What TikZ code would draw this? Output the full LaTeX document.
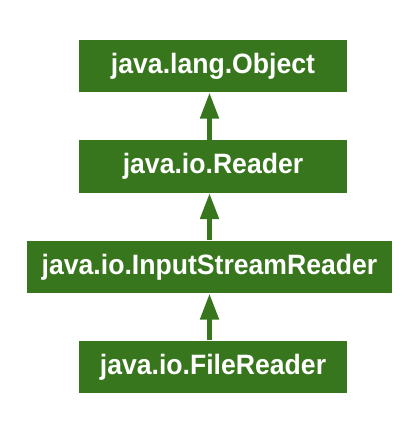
\documentclass[tikz,border=0pt]{standalone}
\usepackage{fontspec}
\setmainfont{Liberation Sans}
\newfontfamily\boxfont[FakeStretch=0.95]{Liberation Sans}
\usetikzlibrary{arrows.meta}
\definecolor{javagreen}{RGB}{56,118,29}
\begin{document}
\begin{tikzpicture}[x=0.75pt, y=-0.75pt,
    classbox/.style={fill=javagreen, text=white, inner sep=0pt,
        font=\boxfont\fontsize{21}{25}\selectfont\bfseries,
        minimum width=201pt, minimum height=39.5pt},
    extends/.style={draw=javagreen, line width=3.75pt,
        -{Triangle[length=19.5pt, width=13.5pt]}}]
    % Marco
    \useasboundingbox (0,0) rectangle (418,429);

    % Clases
    \node[classbox] (obj) at (213,66) {java.lang.Object};
    \node[classbox] (rd) at (213,166.5) {java.io.Reader};
    \node[classbox, minimum width=274pt] (isr) at (209.5,267) {java.io.InputStreamReader};
    \node[classbox] (fr) at (213,367) {java.io.FileReader};

    % Herencia
    \draw[extends] (rd.north -| isr.center) -- (obj.south -| isr.center);
    \draw[extends] (isr.north) -- (rd.south -| isr.center);
    \draw[extends] (fr.north -| isr.center) -- (isr.south);
\end{tikzpicture}
\end{document}
